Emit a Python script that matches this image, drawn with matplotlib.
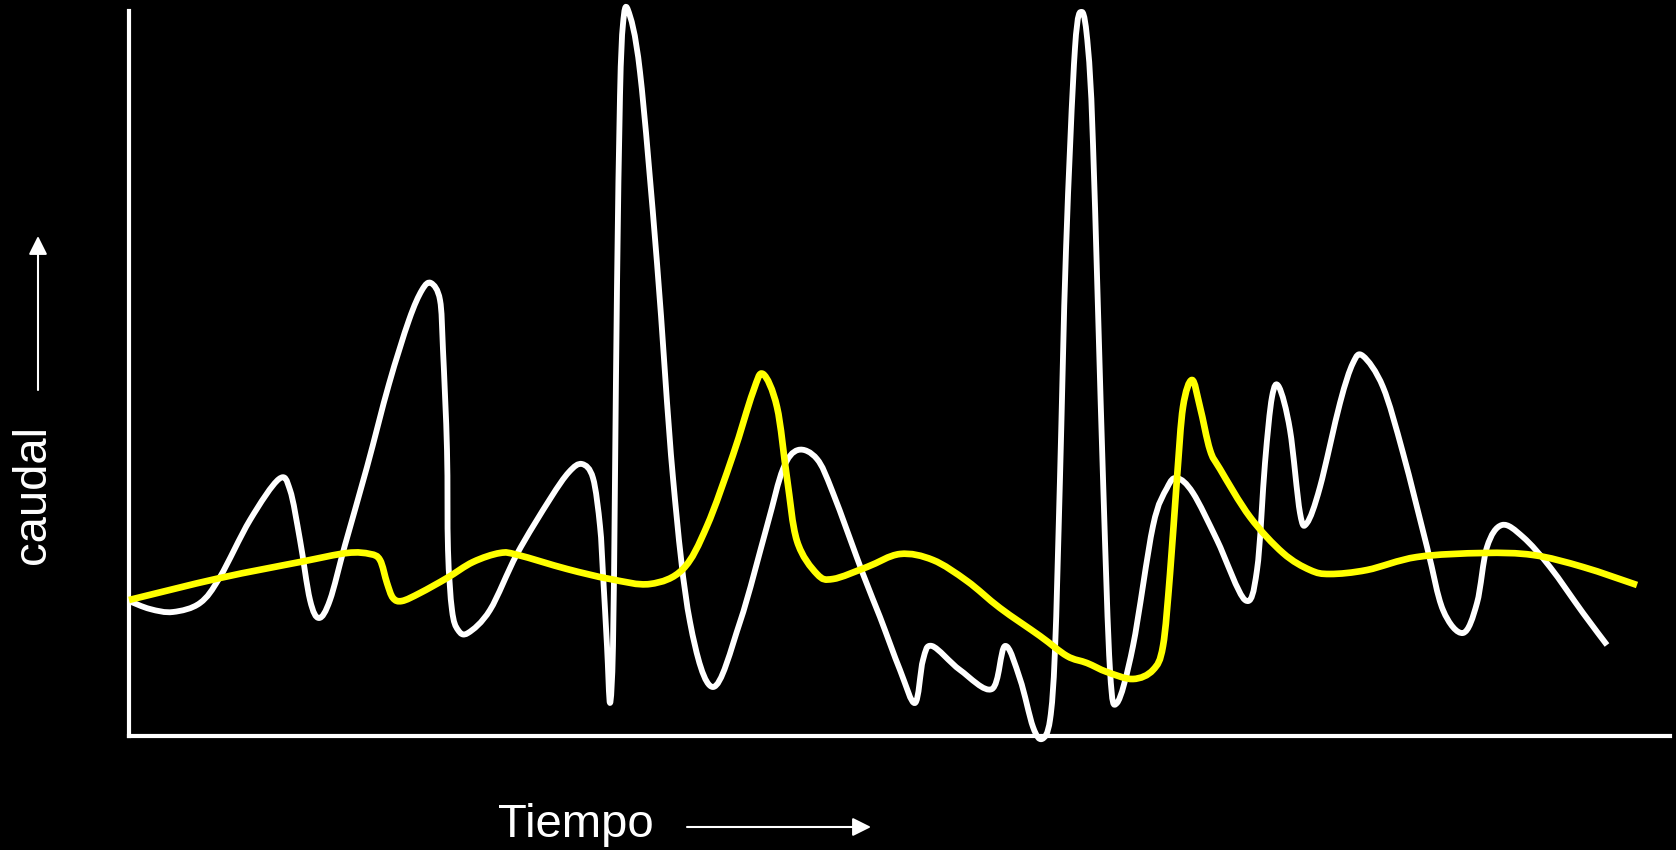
import numpy as np
import matplotlib
matplotlib.use("Agg")
import matplotlib.pyplot as plt
from matplotlib.path import Path
from matplotlib.patches import PathPatch

# schematic hydrograph: time (arbitrary units) vs flow (arbitrary units)
white_t = [0, 21, 44, 71, 91, 121, 150, 161, 171, 181, 190, 201, 216, 238, 260, 280, 293, 302,
           311, 314, 318, 319, 323, 329, 339, 361, 388, 421, 440, 453, 464, 471, 474, 478, 481,
           484, 486, 488, 491, 494, 499, 511, 528, 544, 561, 584, 611, 638, 654, 669, 688,
           704, 734, 751, 771, 786, 794, 803, 831, 863, 876, 891, 904, 913, 921, 926, 931,
           937, 946, 953, 959, 964, 974, 981, 988, 1004, 1024, 1038, 1048, 1064, 1088, 1116,
           1128, 1136, 1143, 1150, 1161, 1171, 1178, 1191, 1211, 1224, 1234, 1254, 1274,
           1298, 1314, 1334, 1348, 1358, 1373, 1394, 1421, 1454, 1478]
white_q = [135, 127, 124, 133, 159, 216, 257, 246, 196, 136, 118, 136, 191, 269, 352, 416, 446, 453,
           436, 386, 286, 186, 126, 106, 103, 126, 182, 237, 264, 272, 258, 210, 162, 90, 33,
           90, 258, 449, 640, 712, 726, 664, 473, 258, 114, 49, 114, 210, 267, 286, 277,
           243, 162, 119, 66, 33, 76, 90, 66, 47, 90, 57, 9, -3, 16, 86, 258,
           486, 688, 724, 688, 592, 258, 66, 33, 90, 210, 248, 258, 243, 196, 136,
           166, 273, 339, 349, 306, 223, 213, 249, 333, 373, 380, 349, 283,
           189, 126, 103, 133, 189, 211, 199, 169, 123, 91]

yellow_t = [0, 91, 171, 218, 241, 251, 258, 264, 273, 291, 318, 344, 371, 389, 438, 481, 521,
            554, 578, 604, 624, 634, 648, 658, 668, 688, 704, 738, 771, 804, 838, 871, 911,
            938, 958, 978, 1004, 1024, 1034, 1041, 1048, 1054, 1063, 1071, 1081, 1091, 1121,
            1154, 1181, 1201, 1238, 1288, 1354, 1404, 1454, 1508]
yellow_q = [136, 158, 174, 183, 182, 176, 153, 138, 135, 143, 158, 174, 183, 181, 167, 157, 152,
            167, 210, 281, 344, 362, 329, 258, 195, 162, 157, 169, 182, 176, 155, 128, 100,
            80, 73, 64, 57, 66, 90, 162, 258, 329, 356, 329, 286, 267, 219,
            183, 166, 162, 166, 179, 183, 181, 169, 151]


def smooth_path(xs, ys):
    # Catmull-Rom knots -> cubic Bezier path drawn by matplotlib
    pts = np.column_stack([xs, ys]).astype(float)
    padded = np.vstack([pts[0], pts, pts[-1]])
    verts = [pts[0]]
    codes = [Path.MOVETO]
    for i in range(len(pts) - 1):
        p0, p1, p2, p3 = padded[i], padded[i + 1], padded[i + 2], padded[i + 3]
        verts += [p1 + (p2 - p0) / 6, p2 - (p3 - p1) / 6, p2]
        codes += [Path.CURVE4] * 3
    return Path(verts, codes)


W, H = 1676, 850
fig = plt.figure(figsize=(W / 100, H / 100), dpi=100, facecolor="black")
ax = fig.add_axes([129 / W, (H - 736) / H, 1541 / W, 725 / H])
ax.set_facecolor("black")
ax.set_xlim(0, 1541)
ax.set_ylim(0, 725)
ax.set_xticks([])
ax.set_yticks([])
for side in ["top", "right"]:
    ax.spines[side].set_visible(False)
for side in ["left", "bottom"]:
    ax.spines[side].set_color("white")
    ax.spines[side].set_linewidth(3.0)

ax.add_patch(PathPatch(smooth_path(white_t, white_q), fill=False, edgecolor="white",
                       lw=4.2, capstyle="butt", joinstyle="round", clip_on=False, zorder=3))
ax.add_patch(PathPatch(smooth_path(yellow_t, yellow_q), fill=False, edgecolor="#ffff00",
                       lw=4.8, capstyle="butt", joinstyle="round", clip_on=False, zorder=4))

font = ["Liberation Sans", "DejaVu Sans"]
fig.text(33 / W, 1 - 495 / H, "caudal", rotation=90, ha="center", va="center",
         fontsize=34, color="white", family=font)
fig.text(576 / W, 1 - 837 / H, "Tiempo", ha="center", va="baseline",
         fontsize=34, color="white", family=font)

arrow = dict(arrowstyle="-|>", color="white", lw=1.5, mutation_scale=28, shrinkA=0, shrinkB=0)
ax.annotate("", xy=(38, H - 236), xytext=(38, H - 390), xycoords="figure pixels",
            textcoords="figure pixels", arrowprops=arrow, annotation_clip=False)
ax.annotate("", xy=(871, H - 827), xytext=(687, H - 827), xycoords="figure pixels",
            textcoords="figure pixels", arrowprops=arrow, annotation_clip=False)

fig.savefig("out.png", dpi=100, facecolor="black")
